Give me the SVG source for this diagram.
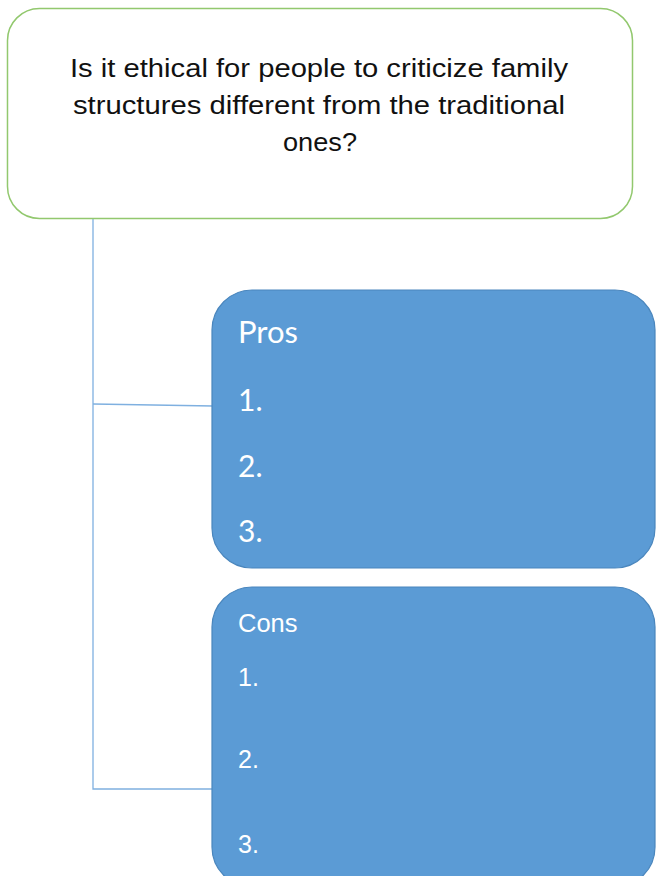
<svg xmlns="http://www.w3.org/2000/svg" width="657" height="876" viewBox="0 0 657 876">
<style>
.q{font-family:"Liberation Sans",Arial,sans-serif;font-size:26.5px;fill:#111;text-anchor:middle}
.p{font-family:Lato,"Open Sans",sans-serif;fill:#fff}
.c{font-family:"Liberation Sans",Arial,sans-serif;fill:#fff}
.box{fill:#5B9BD5;stroke:#4A86BD;stroke-width:1.2}
.conn{fill:none;stroke:#7FB0E0;stroke-width:1.3}
</style>
<rect width="657" height="876" fill="#fff"/>
<g id="connectors">
<polyline class="conn" points="93,219 93,789 213,789"/>
<line class="conn" x1="93" y1="404" x2="213" y2="406"/>
</g>
<g id="question">
<rect x="7.5" y="8.5" width="625" height="210" rx="32" fill="#fff" stroke="#92C86E" stroke-width="1.5"/>
<text class="q" x="319" y="77" textLength="498" lengthAdjust="spacingAndGlyphs">Is it ethical for people to criticize family</text>
<text class="q" x="319" y="114" textLength="492" lengthAdjust="spacingAndGlyphs">structures different from the traditional</text>
<text class="q" x="320" y="151" textLength="74" lengthAdjust="spacingAndGlyphs">ones?</text>
</g>
<g id="pros">
<rect class="box" x="212" y="290" width="443" height="278" rx="40"/>
<text class="p" x="238" y="343" font-size="31">Pros</text>
<text class="p" x="238" y="411" font-size="30">1.</text>
<text class="p" x="238" y="477" font-size="30">2.</text>
<text class="p" x="238" y="542" font-size="30">3.</text>
</g>
<g id="cons">
<rect class="box" x="212" y="587" width="443" height="300" rx="40"/>
<text class="c" x="238" y="632" font-size="25.5">Cons</text>
<text class="c" x="238" y="686" font-size="25">1.</text>
<text class="c" x="238" y="768" font-size="25">2.</text>
<text class="c" x="238" y="853" font-size="25">3.</text>
</g>
</svg>
